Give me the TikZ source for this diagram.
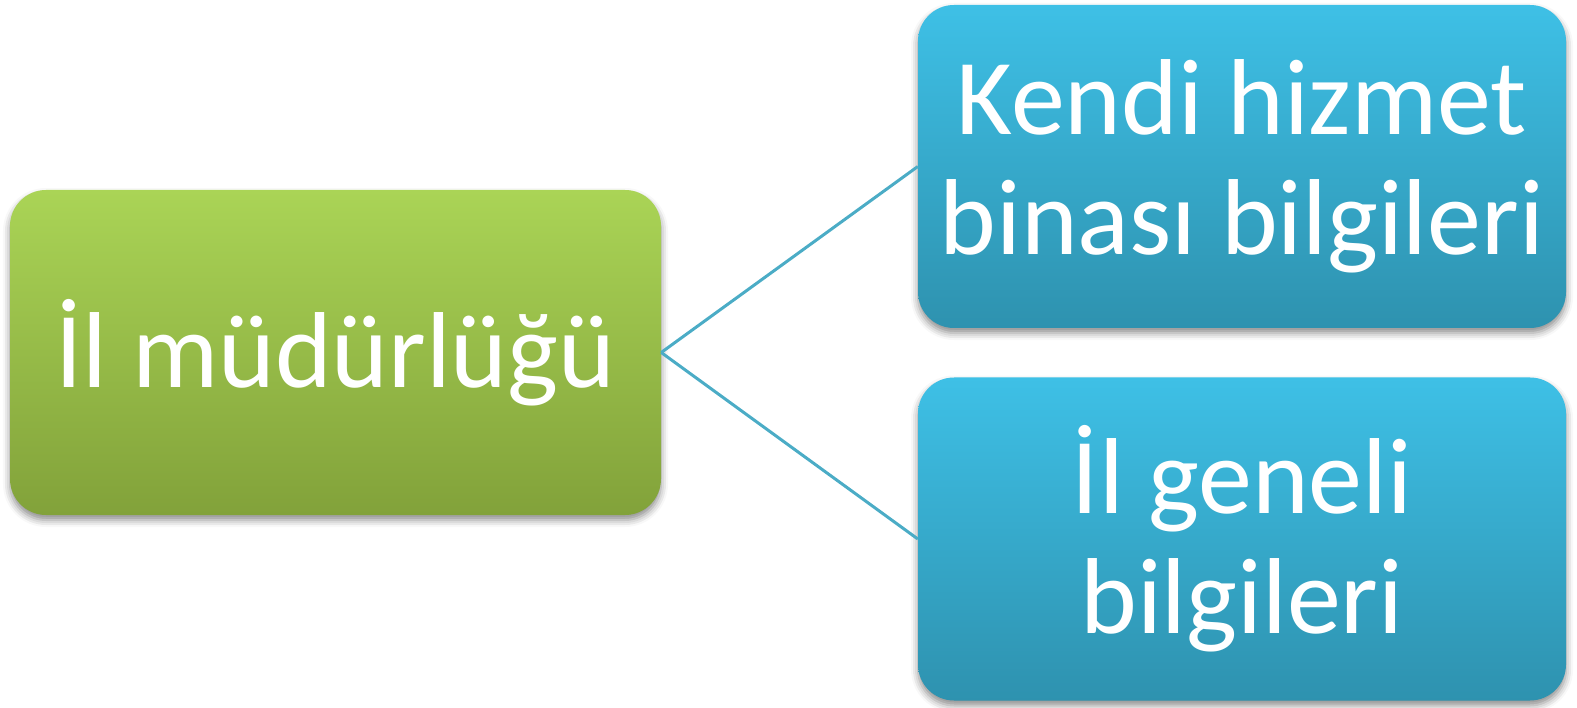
\documentclass[tikz,border=0pt]{standalone}
\usepackage{fontspec}
\setmainfont{Carlito}
\usetikzlibrary{shadows.blur}
\definecolor{gtop}{HTML}{AAD456}
\definecolor{gbot}{HTML}{82A23A}
\definecolor{btop}{HTML}{3EC0E6}
\definecolor{bbot}{HTML}{2E92AF}
\definecolor{linkc}{HTML}{4BACC6}
\tikzset{
  boxbase/.style={rectangle, rounded corners=36pt, text=white, align=center,
    font=\fontsize{108}{120}\selectfont, inner sep=0pt,
    blur shadow={shadow xshift=0pt, shadow yshift=-5pt, shadow blur radius=7pt, shadow opacity=45}},
  greenbox/.style={boxbase, top color=gtop, bottom color=gbot, minimum width=651pt, minimum height=325pt},
  bluebox/.style={boxbase, top color=btop, bottom color=bbot, minimum width=648pt, minimum height=323pt},
  link/.style={draw=linkc, line width=3pt}
}
\begin{document}
\begin{tikzpicture}[x=1pt,y=-1pt]
\useasboundingbox (0,0) rectangle (1577,708);
\node[greenbox] (root) at (335.5,352.5) {İl müdürlüğü};
\node[bluebox] (kendi) at (1242,166.5) {Kendi hizmet\\binası bilgileri};
\node[bluebox] (genel) at (1242,539) {İl geneli\\bilgileri};
\draw[link] (root.east) -- (kendi.west);
\draw[link] (root.east) -- (genel.west);
\end{tikzpicture}
\end{document}
